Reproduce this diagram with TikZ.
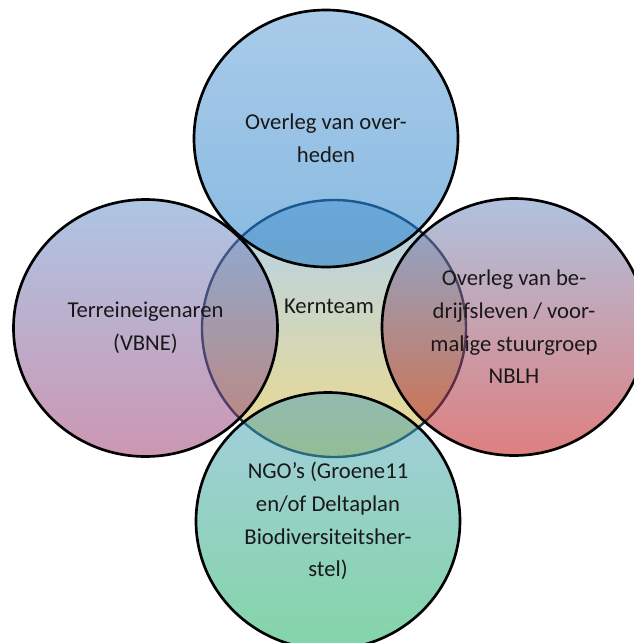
\documentclass[tikz,border=0pt]{standalone}
\usepackage{fontspec}
\setmainfont{Carlito}
\usetikzlibrary{shapes.geometric}

\definecolor{overheidTop}{RGB}{83,151,211}
\definecolor{overheidBot}{RGB}{17,117,197}
\definecolor{terreinTop}{RGB}{93,140,202}
\definecolor{terreinBot}{RGB}{153,46,102}
\definecolor{bedrijfTop}{RGB}{97,133,191}
\definecolor{bedrijfBot}{RGB}{190,0,0}
\definecolor{ngoTop}{RGB}{73,157,191}
\definecolor{ngoBot}{RGB}{9,171,81}
\definecolor{kernTop}{RGB}{102,166,224}
\definecolor{kernBot}{RGB}{223,182,21}
\definecolor{kernLine}{RGB}{24,52,84}
\definecolor{vennText}{RGB}{25,25,25}

\tikzset{%
  venn/.style={ellipse, inner sep=0pt, minimum width=198pt, minimum height=192.75pt,
    fill opacity=0.5, text opacity=1, draw=black, line width=2pt,
    align=center, text=vennText, font=\fontsize{17}{24.5}\selectfont}
}

\begin{document}
\begin{tikzpicture}[x=0.75pt,y=-0.75pt]
     \useasboundingbox (0,0) rectangle (633,643);
     % kernteam underneath
     \node[venn, draw=kernLine, line width=1.8pt, top color=kernTop, bottom color=kernBot] (kern) at (334,328.5) {};

     \node[venn, top color=overheidTop, bottom color=overheidBot] (overheid) at (326,138.5)
       {Overleg van over-\\heden};
     \node[venn, top color=terreinTop, bottom color=terreinBot] (terrein) at (145.5,328)
       {Terreineigenaren\\(VBNE)};
     \node[venn, top color=bedrijfTop, bottom color=bedrijfBot] (bedrijf) at (514,327)
       {Overleg van be-\\drijfsleven / voor-\\malige stuurgroep\\NBLH};
     \node[venn, top color=ngoTop, bottom color=ngoBot] (ngo) at (328,521)
       {NGO’s (Groene11\\en/of Deltaplan\\Biodiversiteitsher-\\stel)};

     \node[text=vennText, font=\fontsize{17}{24.5}\selectfont] (kernlabel) at (329,306) {Kernteam};
\end{tikzpicture}
\end{document}
